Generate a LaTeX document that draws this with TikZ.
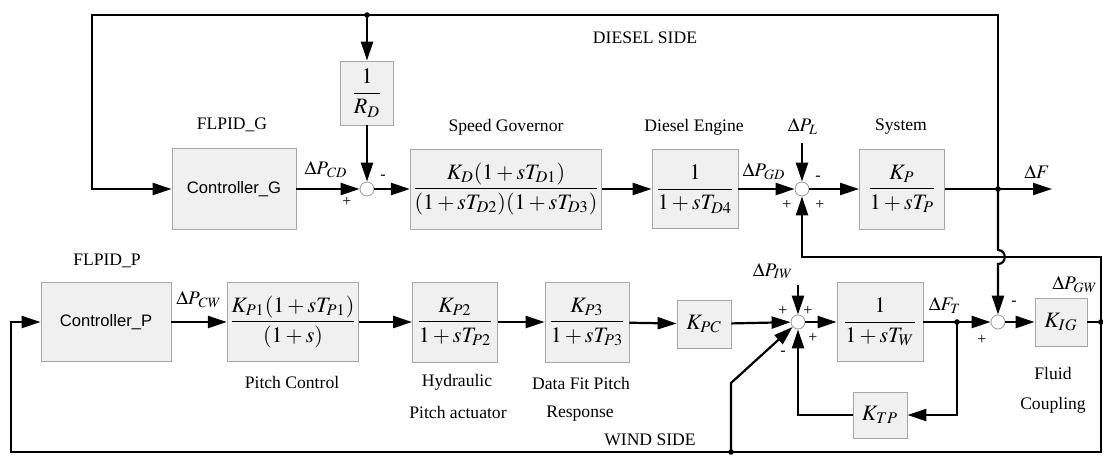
\documentclass[tikz,border=0pt]{standalone}
\usepackage{amsmath}
\usepackage{mathptmx}
\usepackage{fontspec}
\setmainfont{Liberation Serif}
\setsansfont{Liberation Sans}
\usetikzlibrary{arrows.meta,positioning,calc}

\begin{document}
\begin{tikzpicture}[x=0.5pt,y=-0.5pt,
    block/.style={draw=gray!70,fill=gray!12,line width=0.4pt,inner sep=1pt,
      font=\fontsize{11}{13}\selectfont},
    ctrl/.style={block,font=\sffamily\fontsize{8.3}{10}\selectfont},
    sumj/.style={circle,draw=gray!80,fill=white,line width=0.4pt,minimum size=7pt,inner sep=0pt},
    sig/.style={-{Triangle[length=9.5pt,width=6pt]},line width=1.1pt},
    wire/.style={line width=1.1pt},
    lbl/.style={inner sep=0pt,font=\fontsize{8.8}{10}\selectfont},
    mlbl/.style={inner sep=0pt,font=\fontsize{9.6}{11}\selectfont},
    sgn/.style={inner sep=0pt,font=\fontsize{8}{9}\selectfont}]
    \useasboundingbox (0,0) rectangle (1103,456);

    % Diesel side blocks
    \node[ctrl,minimum width=62pt,minimum height=40.5pt] (ctrlG) at (234,189) {Controller\_G};
    \node[lbl] (flpidG) at (232,125) {FLPID\_G};
    \node[block,minimum width=26.5pt,minimum height=32pt] (rd) at (367,93) {$\dfrac{1}{R_D}$};
    \node[sumj] (sum1) at (367,189) {};
    \node[block,minimum width=93pt,minimum height=40pt] (gov) at (506,189)
      {$\dfrac{K_D(1+sT_{D1})}{(1+sT_{D2})(1+sT_{D3})}$};
    \node[lbl] (govL) at (506,127) {Speed Governor};
    \node[block,minimum width=43pt,minimum height=39.5pt] (eng) at (695,189) {$\dfrac{1}{1+sT_{D4}}$};
    \node[lbl] (engL) at (694,127) {Diesel Engine};
    \node[sumj] (sum2) at (802,189) {};
    \node[mlbl] (pL) at (803,126) {$\Delta P_L$};
    \node[block,minimum width=42.5pt,minimum height=40pt] (sys) at (902,189) {$\dfrac{K_P}{1+sT_P}$};
    \node[lbl] (sysL) at (901,127) {System};
    \node[lbl] (diesel) at (645,38) {DIESEL SIDE};
    \node[mlbl] (pCD) at (326,170) {$\Delta P_{\kern0.6pt CD}$};
    \node[mlbl] (pGD) at (764,172) {$\Delta P_{GD}$};
    \node[mlbl] (dF) at (1037,172) {$\Delta F$};
    \coordinate (pLin) at (802,143);
    \coordinate (fdot) at (998,189);
    \coordinate (fout) at (1052,189);
    \coordinate (topR) at (998,15);
    \coordinate (topL) at (92,15);
    \coordinate (rdtap) at (367,15);

    % Wind side blocks
    \node[ctrl,minimum width=65pt,minimum height=39.5pt] (ctrlP) at (106,322) {Controller\_P};
    \node[lbl] (flpidP) at (107,261) {FLPID\_P};
    \node[block,minimum width=65.5pt,minimum height=39.5pt] (pc) at (293,322)
      {$\dfrac{K_{P1}(1+sT_{P1})}{(1+s)}$};
    \node[lbl] (pcL) at (292,382) {Pitch Control};
    \node[block,minimum width=42.5pt,minimum height=40pt] (hyd) at (455,322) {$\dfrac{K_{P2}}{1+sT_{P2}}$};
    \node[lbl] (hydL) at (457,382) {Hydraulic};
    \node[lbl] (hydL2) at (458,412) {Pitch actuator};
    \node[block,minimum width=42pt,minimum height=40pt] (dfp) at (587,322) {$\dfrac{K_{P3}}{1+sT_{P3}}$};
    \node[lbl] (dfpL) at (581,383) {Data Fit Pitch};
    \node[lbl] (dfpL2) at (580,414) {Response};
    \node[block,minimum width=27pt,minimum height=24pt] (kpc) at (704,324) {$K_{PC}$};
    \node[sumj] (sum3) at (798,322) {};
    \node[mlbl] (pIW) at (773,271) {$\Delta P_{IW}$};
    \node[block,minimum width=43pt,minimum height=39.5pt] (tw) at (880,322) {$\dfrac{1}{1+sT_W}$};
    \node[mlbl] (fT) at (945,305) {$\Delta F_T$};
    \node[block,minimum width=27pt,minimum height=23pt] (ktp) at (880,415) {$K_{TP}$};
    \node[sumj] (sum4) at (998,322) {};
    \node[block,minimum width=26pt,minimum height=24pt] (kig) at (1061,322) {$K_{IG}$};
    \node[mlbl] (pGW) at (1075,285) {$\Delta P_{GW}$};
    \node[lbl] (kigL) at (1053,373) {Fluid};
    \node[lbl] (kigL2) at (1053,405) {Coupling};
    \node[mlbl] (pCW) at (199,300) {$\Delta P_{\kern0.6pt CW}$};
    \node[lbl] (wind) at (650,440) {WIND SIDE};
    \coordinate (pIWin) at (798,285);
    \coordinate (ftdot) at (957,322);
    \coordinate (gwdot) at (1101,322);
    \coordinate (gwup) at (1101,257);
    \coordinate (gwdown) at (1101,452);
    \coordinate (botL) at (11,452);
    \coordinate (wtap) at (731,452);
    \coordinate (wknee) at (731,383);
    \coordinate (hopA) at (998,250);
    \coordinate (hopB) at (998,264);

    % Signs at the summing points
    \node[sgn] at (383,177) {-};
    \node[sgn] at (347,202) {+};
    \node[sgn] at (818,178) {-};
    \node[sgn] at (787,205) {+};
    \node[sgn] at (820,205) {+};
    \node[sgn] at (783,311) {+};
    \node[sgn] at (808,311) {+};
    \node[sgn] at (813,338) {+};
    \node[sgn] at (783,353) {-};
    \node[sgn] at (982,340) {+};
    \node[sgn] at (1014,303) {-};

    % Diesel loop
    \draw[sig] (fdot) -- (topR) -- (topL) |- (ctrlG);
    \draw[sig] (rdtap) -- (rd);
    \draw[sig] (rd) -- (sum1);
    \draw[sig] (ctrlG) -- (sum1);
    \draw[sig] (sum1) -- (gov);
    \draw[sig] (gov) -- (eng);
    \draw[sig] (eng) -- (sum2);
    \draw[sig] (pLin) -- (sum2);
    \draw[sig] (sum2) -- (sys);
    \draw[sig] (sys) -- (fout);
    \draw[sig] (fdot) -- (hopA) .. controls +(9,0) and +(9,0) .. (hopB) -- (sum4);

    % Wind loop
    \draw[sig] (ctrlP) -- (pc);
    \draw[sig] (pc) -- (hyd);
    \draw[sig] (hyd) -- (dfp);
    \draw[sig] (dfp) -- (kpc);
    \draw[sig] (kpc) -- (sum3);
    \draw[sig] (pIWin) -- (sum3);
    \draw[sig] (sum3) -- (tw);
    \draw[sig] (tw) -- (sum4);
    \draw[sig] (ftdot) |- (ktp);
    \draw[sig] (ktp) -| (sum3);
    \draw[sig] (sum4) -- (kig);
    \draw[wire] (kig) -- (gwdot);
    \draw[sig] (gwdot) -- (gwup) -| (sum2);
    \draw[sig] (gwdot) -- (gwdown) -- (botL) |- (ctrlP);
    \draw[sig] (wtap) -- (wknee) -- (sum3);

    % Junction dots
    \foreach \d in {rdtap,fdot,ftdot,gwdot,wtap}
      \fill (\d) circle (1.4pt);
  \end{tikzpicture}
\end{document}
